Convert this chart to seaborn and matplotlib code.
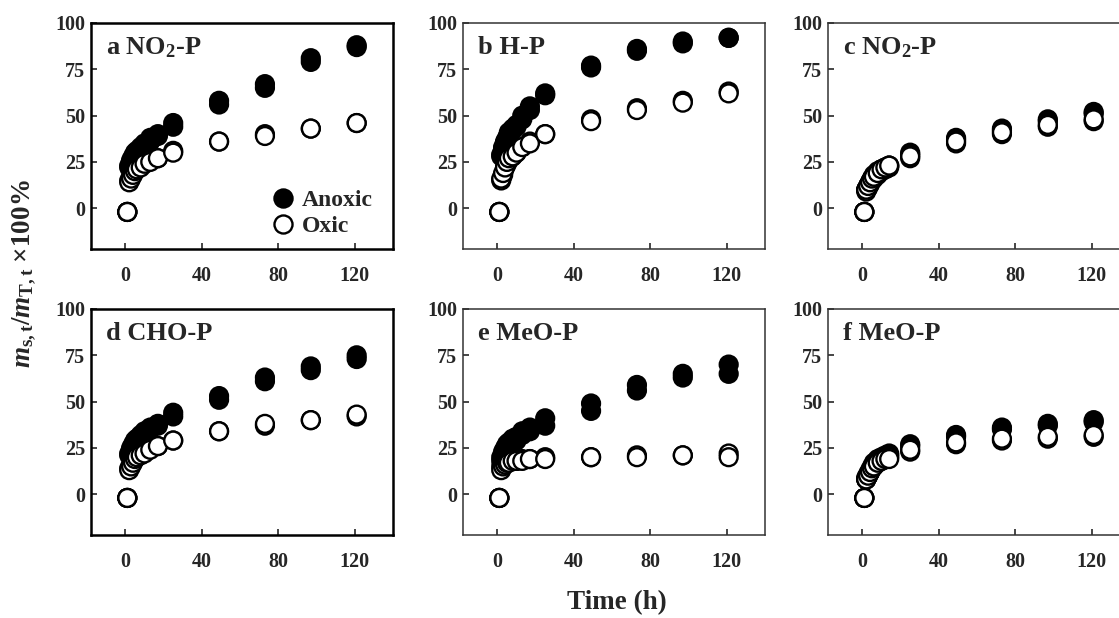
import numpy as np
import pandas as pd
import seaborn as sns
import matplotlib.pyplot as plt
from matplotlib.lines import Line2D

sns.set_style("ticks")
plt.rcParams['font.family'] = ['Liberation Serif', 'DejaVu Serif']
plt.rcParams['font.weight'] = 'bold'
plt.rcParams['mathtext.fontset'] = 'custom'
plt.rcParams['mathtext.rm'] = 'Liberation Serif:bold'
plt.rcParams['mathtext.bf'] = 'Liberation Serif:bold'
plt.rcParams['mathtext.it'] = 'Liberation Serif:italic:bold'

# sampling times (h)
t_abde = [1, 2, 3, 4, 5, 6, 8, 10, 13, 17, 25, 49, 73, 97, 121]
t_cf = [1, 2, 3, 4, 5, 6, 8, 10, 12, 14, 25, 49, 73, 97, 121]

# panel a NO2-P
a_anoxic_1 = [-2, 23, 26, 28, 30, 31, 33, 35, 38, 40, 46, 58, 67, 81, 88]
a_anoxic_2 = [-2, 22, 25, 27, 29, 30, 32, 34, 36, 39, 44, 56, 65, 79, 87]
a_oxic_1 = [-2, 15, 17, 19, 21, 22, 23, 24, 26, 27, 31, 36, 40, 43, 46]
a_oxic_2 = [-2, 14, 16, 18, 20, 21, 22, 24, 25, 27, 30, 36, 39, 43, 46]
# panel b H-P
b_anoxic_1 = [-2, 29, 33, 36, 38, 41, 43, 45, 50, 55, 62, 77, 86, 90, 92]
b_anoxic_2 = [-2, 28, 32, 35, 37, 40, 42, 44, 48, 53, 61, 76, 85, 89, 92]
b_oxic_1 = [-2, 15, 18, 22, 24, 26, 28, 30, 33, 36, 40, 48, 54, 58, 63]
b_oxic_2 = [-2, 16, 19, 22, 25, 27, 28, 30, 33, 35, 40, 47, 53, 57, 62]
# panel c NO2-P
c_anoxic_1 = [-2, 10, 12, 14, 16, 18, 20, 21, 22, 23, 30, 38, 43, 48, 52]
c_anoxic_2 = [-2, 10, 12, 14, 16, 17, 19, 21, 22, 23, 29, 37, 42, 47, 51]
c_oxic_1 = [-2, 9, 11, 13, 15, 16, 18, 20, 21, 22, 27, 35, 40, 44, 47]
c_oxic_2 = [-2, 10, 12, 14, 16, 17, 19, 21, 22, 23, 28, 36, 41, 45, 48]
# panel d CHO-P
d_anoxic_1 = [-2, 22, 25, 27, 29, 30, 32, 34, 36, 38, 44, 53, 63, 69, 75]
d_anoxic_2 = [-2, 21, 24, 26, 28, 29, 31, 33, 35, 37, 42, 51, 61, 67, 73]
d_oxic_1 = [-2, 14, 16, 18, 20, 21, 22, 23, 25, 26, 29, 34, 37, 40, 42]
d_oxic_2 = [-2, 13, 15, 17, 19, 20, 21, 22, 24, 26, 29, 34, 38, 40, 43]
# panel e MeO-P
e_anoxic_1 = [-2, 20, 23, 25, 27, 28, 30, 31, 34, 36, 41, 49, 59, 65, 70]
e_anoxic_2 = [-2, 18, 21, 23, 25, 26, 28, 29, 32, 34, 37, 45, 56, 63, 65]
e_oxic_1 = [-2, 15, 16, 17, 17, 18, 18, 18, 19, 19, 20, 20, 21, 21, 22]
e_oxic_2 = [-2, 13, 15, 16, 17, 17, 18, 18, 18, 19, 19, 20, 20, 21, 20]
# panel f MeO-P
f_anoxic_1 = [-2, 9, 11, 13, 15, 17, 19, 20, 21, 22, 27, 32, 36, 38, 40]
f_anoxic_2 = [-2, 8, 10, 12, 14, 16, 18, 19, 20, 21, 26, 31, 35, 37, 39]
f_oxic_1 = [-2, 8, 10, 12, 14, 15, 17, 18, 19, 20, 23, 27, 29, 30, 31]
f_oxic_2 = [-2, 8, 10, 12, 14, 15, 17, 18, 19, 19, 24, 28, 30, 31, 32]

panel_titles = ["a NO$_2$-P", "b H-P", "c NO$_2$-P", "d CHO-P", "e MeO-P", "f MeO-P"]
x_ticks = [0, 40, 80, 120]
y_ticks = [0, 25, 50, 75, 100]

panels = [
    (t_abde, a_anoxic_1, a_anoxic_2, a_oxic_1, a_oxic_2),
    (t_abde, b_anoxic_1, b_anoxic_2, b_oxic_1, b_oxic_2),
    (t_cf, c_anoxic_1, c_anoxic_2, c_oxic_1, c_oxic_2),
    (t_abde, d_anoxic_1, d_anoxic_2, d_oxic_1, d_oxic_2),
    (t_abde, e_anoxic_1, e_anoxic_2, e_oxic_1, e_oxic_2),
    (t_cf, f_anoxic_1, f_anoxic_2, f_oxic_1, f_oxic_2),
]

W, H = 1119, 618
fig = plt.figure(figsize=(W / 100, H / 100), dpi=100)

lefts = [91, 463, 828]
tops = [23, 309]
boxes = []
for r in range(2):
    for c in range(3):
        boxes.append([lefts[c] / W, 1 - (tops[r] + 226) / H, 302 / W, 226 / H])

for i, (t, an1, an2, ox1, ox2) in enumerate(panels):
    ax = fig.add_axes(boxes[i])
    rows = []
    for vals, cond in [(an1, "Anoxic"), (an2, "Anoxic"), (ox1, "Oxic"), (ox2, "Oxic")]:
        for tt, v in zip(t, vals):
            rows.append({"time": tt, "value": v, "condition": cond})
    df = pd.DataFrame(rows)
    sns.scatterplot(data=df, x="time", y="value", hue="condition",
                    palette={"Anoxic": "black", "Oxic": "white"},
                    edgecolor="black", linewidth=1.7, s=165, legend=False, ax=ax, zorder=3)
    ax.set_xlim(-18, 140)
    ax.set_ylim(-22, 100)
    ax.set_xticks(x_ticks)
    ax.set_yticks(y_ticks)
    ax.set_xlabel("")
    ax.set_ylabel("")
    ax.tick_params(axis="x", direction="in", length=4, width=1.2, pad=12, labelsize=14.5)
    ax.tick_params(axis="y", direction="in", length=4, width=1.2, pad=4, labelsize=14.5)
    for lab in ax.get_xticklabels() + ax.get_yticklabels():
        lab.set_fontweight("bold")
    lw = 1.8 if i in (0, 3) else 1.1
    for sp in ax.spines.values():
        sp.set_visible(True)
        sp.set_linewidth(lw)
        sp.set_color("black" if i in (0, 3) else "#333333")
    ax.text(0.05, 0.89, panel_titles[i], transform=ax.transAxes,
            fontsize=19, fontweight="bold", va="center", ha="left")
    if i == 0:
        handles = [
            Line2D([], [], marker="o", ls="", markersize=13, markerfacecolor="black",
                   markeredgecolor="black", markeredgewidth=1.7),
            Line2D([], [], marker="o", ls="", markersize=13, markerfacecolor="white",
                   markeredgecolor="black", markeredgewidth=1.7),
        ]
        ax.legend(handles, ["Anoxic", "Oxic"], loc="lower right", frameon=False,
                  prop={"size": 17, "weight": "bold"}, handletextpad=0.2,
                  labelspacing=0.2, borderaxespad=0.2, handlelength=1.2,
                  bbox_to_anchor=(0.98, -0.01))

fig.text(617 / W, 1 - 603 / H, "Time (h)", ha="center", va="center",
         fontsize=19.5, fontweight="bold")
fig.text(24 / W, 1 - 274 / H, r"$m_{\mathrm{s,t}}/m_{\mathrm{T,t}}$ ×100%", ha="center",
         va="center", rotation=90, fontsize=19.5, fontweight="bold")

plt.savefig("out.png", dpi=100)
